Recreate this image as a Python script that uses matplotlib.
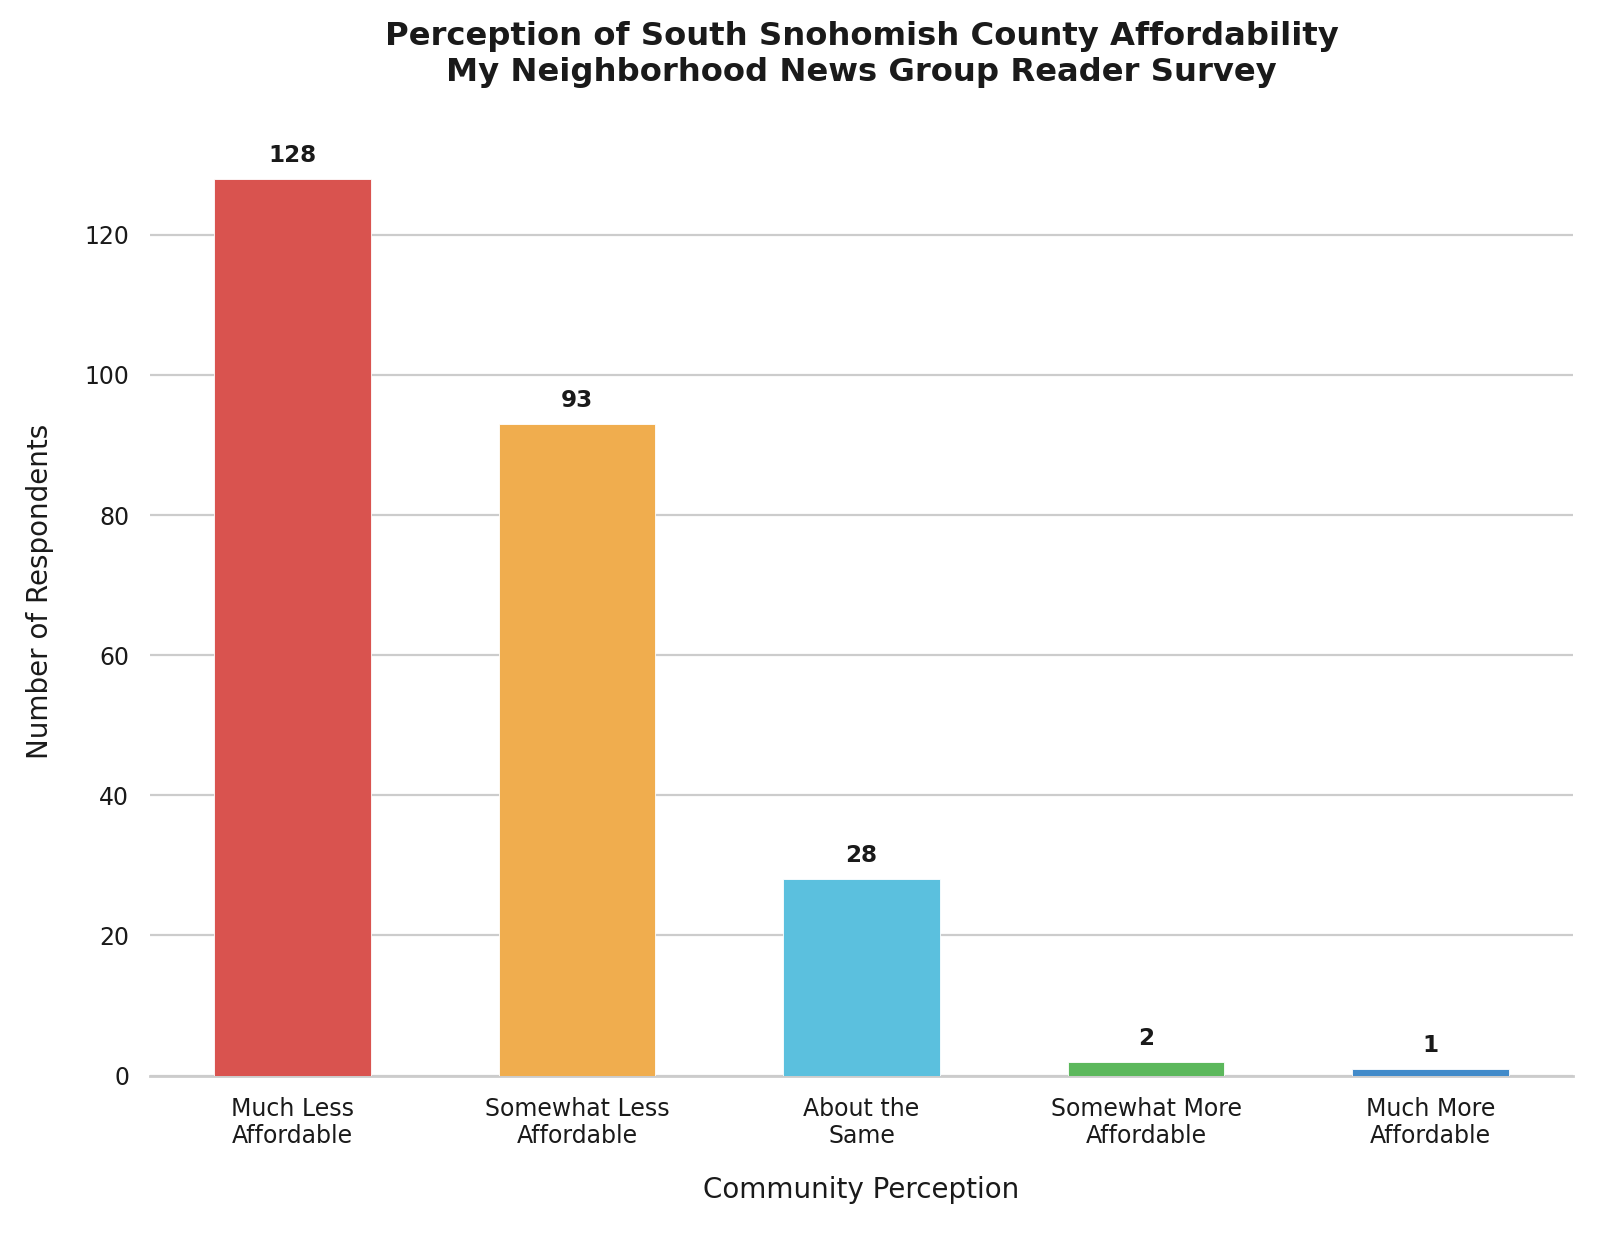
import matplotlib
matplotlib.use("Agg")
import matplotlib.pyplot as plt

categories = ["Much Less\nAffordable", "Somewhat Less\nAffordable", "About the\nSame",
              "Somewhat More\nAffordable", "Much More\nAffordable"]
counts = [128, 93, 28, 2, 1]
colors = ["#d9534f", "#f0ad4e", "#5bc0de", "#5cb85c", "#428bca"]
yticks = [0, 20, 40, 60, 80, 100, 120]

plt.rcParams['font.family'] = ['DejaVu Sans']
fig = plt.figure(figsize=(8, 6.18), dpi=200)
ax = fig.add_axes([0.094, 0.1298, 0.889, 0.7836])

x = list(range(len(categories)))
bars = ax.bar(x, counts, width=0.55, color=colors, edgecolor="white", linewidth=0.3, zorder=3)
for b, v in zip(bars, counts):
    ax.text(b.get_x() + b.get_width() / 2, v + 1.7, str(v), ha="center", va="bottom",
            fontsize=8.3, fontweight="bold", color="#1a1a1a")

ax.set_xlim(-0.5, 4.5)
ax.set_ylim(0, 138.24)
ax.set_yticks(yticks)
ax.set_xticks(x)
ax.set_xticklabels(categories)
ax.tick_params(axis="both", length=4.8, width=0, pad=2.8, labelsize=8.5, colors="#1a1a1a")
ax.yaxis.grid(True, color="#cccccc", linewidth=0.8, zorder=0)
ax.xaxis.grid(False)
for s in ["top", "right", "left"]:
    ax.spines[s].set_visible(False)
ax.spines["bottom"].set_color("#cccccc")
ax.spines["bottom"].set_linewidth(1.0)
ax.set_axisbelow(True)

ax.set_xlabel("Community Perception", fontsize=10, labelpad=10, color="#1a1a1a")
ax.set_ylabel("Number of Respondents", fontsize=10, labelpad=11, color="#1a1a1a")
ax.set_title("Perception of South Snohomish County Affordability\nMy Neighborhood News Group Reader Survey",
             fontsize=11.6, fontweight="bold", color="#1a1a1a", pad=9.5)

fig.savefig("out.png", dpi=200, facecolor="white")
